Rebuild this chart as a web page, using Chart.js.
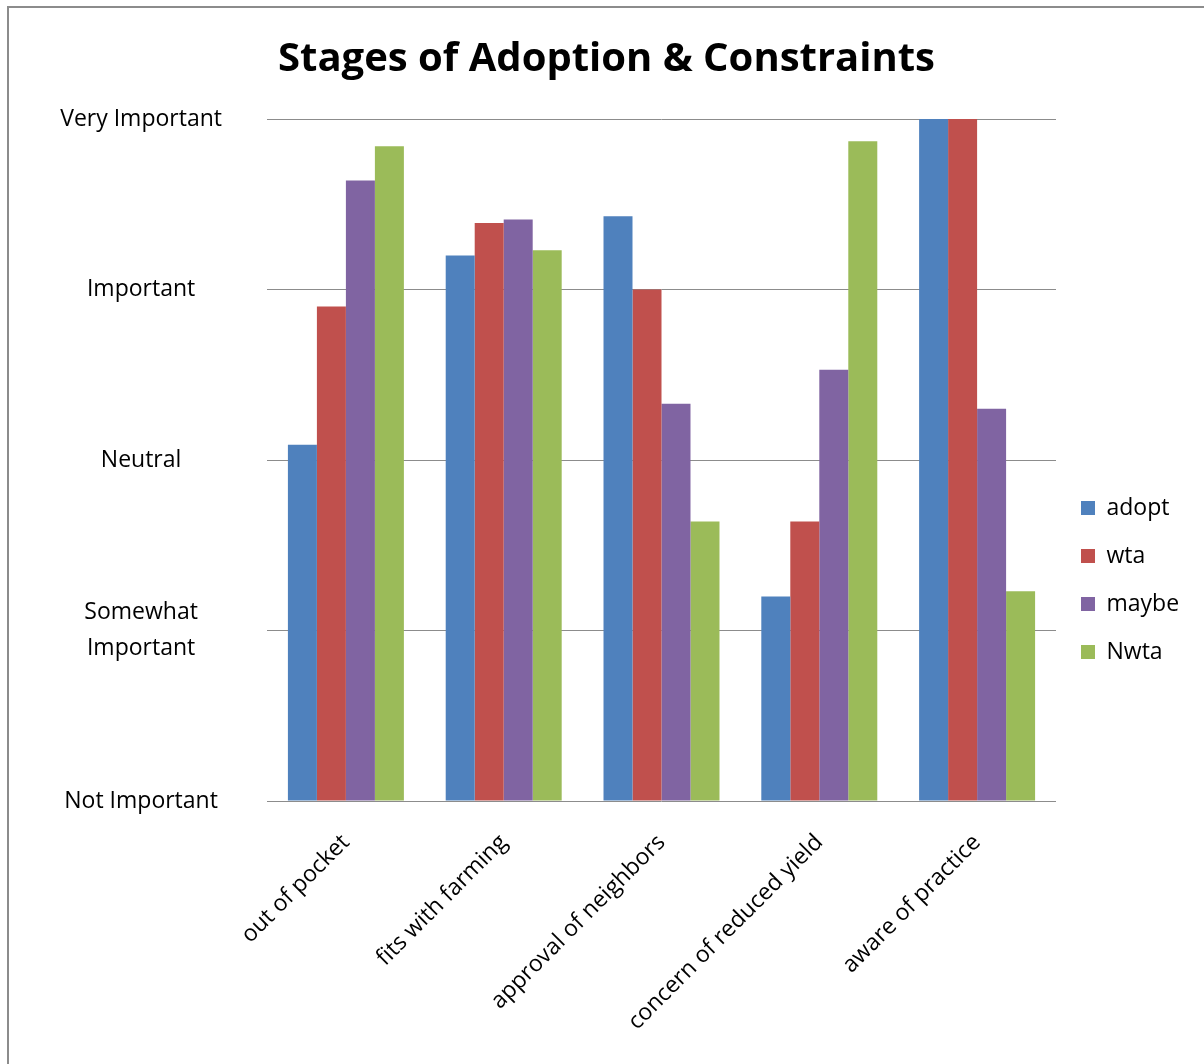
<!DOCTYPE html>
<html>
<head>
<meta charset="utf-8">
<script src="https://cdn.jsdelivr.net/npm/chart.js@4.4.0/dist/chart.umd.min.js"></script>
<style>
	html, body { margin: 0; padding: 0; background: #fff; overflow: hidden; }
	#frame { position: absolute; left: 7px; top: 6px; width: 1210px; height: 1070px; border: 2px solid #8c8c8c; background: #fff; }
	#wrap { position: absolute; left: 0; top: 0; width: 1195px; height: 1056px; }
</style>
</head>
<body>
<div id="frame"><div id="wrap"><canvas id="grafico"></canvas></div></div>
<script>
	// categorias e series
	var categorias = ["out of pocket", "fits with farming", "approval of neighbors", "concern of reduced yield", "aware of practice"];
	var adopt = [2.09, 3.20, 3.43, 1.20, 4.00];
	var wta = [2.90, 3.39, 3.00, 1.64, 4.00];
	var maybe = [3.64, 3.41, 2.33, 2.53, 2.30];
	var nwta = [3.84, 3.23, 1.64, 3.87, 1.23];
	var niveis = ["Not Important", ["Somewhat", "Important"], "Neutral", "Important", "Very Important"];

	var fonte = "'Open Sans', Lato, sans-serif";

	// legenda com largura fixa e um pouco mais para a direita
	var ajusteLegenda = {
		id: 'ajusteLegenda',
		beforeInit: (chart) => {
			var fit = chart.legend.fit;
			chart.legend.fit = function() {
				fit.call(this);
				this.width = 148;
			};
		},
		afterUpdate: (chart) => {
			chart.legend.legendHitBoxes.forEach((h) => { h.left += 8; });
		}
	};

	var ctx = document.getElementById("grafico").getContext('2d');
	var meuGrafico = new Chart(ctx, {
		type: 'bar',
		data: {
			labels: categorias,
			datasets: [
				{ label: 'adopt', data: adopt, backgroundColor: '#4F81BD' },
				{ label: 'wta', data: wta, backgroundColor: '#C0504D' },
				{ label: 'maybe', data: maybe, backgroundColor: '#8064A2' },
				{ label: 'Nwta', data: nwta, backgroundColor: '#9BBB59' }
			]
		},
		options: {
			responsive: true,
			maintainAspectRatio: false,
			animation: false,
			layout: { padding: 0 },
			datasets: { bar: { categoryPercentage: 0.735, barPercentage: 1.0 } },
			plugins: {
				title: {
					display: true,
					text: 'Stages of Adoption & Constraints',
					color: '#000',
					font: { family: fonte, size: 40, weight: 'bold' },
					padding: { top: 28, bottom: 35 }
				},
				legend: {
					position: 'right',
					align: 'center',
					title: { display: true, text: ' ', padding: { top: 64, bottom: 0 }, font: { size: 20 } },
					labels: {
						color: '#000',
						font: { family: fonte, size: 23 },
						boxWidth: 14,
						boxHeight: 14,
						padding: 25
					}
				},
				tooltip: { enabled: false }
			},
			scales: {
				x: {
					grid: { display: false },
					border: { display: false },
					ticks: {
						color: '#000',
						font: { family: fonte, size: 23 },
						minRotation: 45,
						maxRotation: 45,
						padding: 20
					},
					afterFit: (scale) => { scale.height = 263; }
				},
				y: {
					min: 0,
					max: 4,
					grid: { color: '#8c8c8c', lineWidth: 1, drawTicks: false },
					border: { display: false },
					ticks: {
						stepSize: 1,
						color: '#000',
						crossAlign: 'center',
						padding: 45,
						font: { family: fonte, size: 23, lineHeight: 1.55 },
						callback: (valor) => niveis[valor]
					},
					afterFit: (scale) => { scale.width = 258; }
				}
			}
		},
		plugins: [ajusteLegenda]
	});
</script>
</body>
</html>
